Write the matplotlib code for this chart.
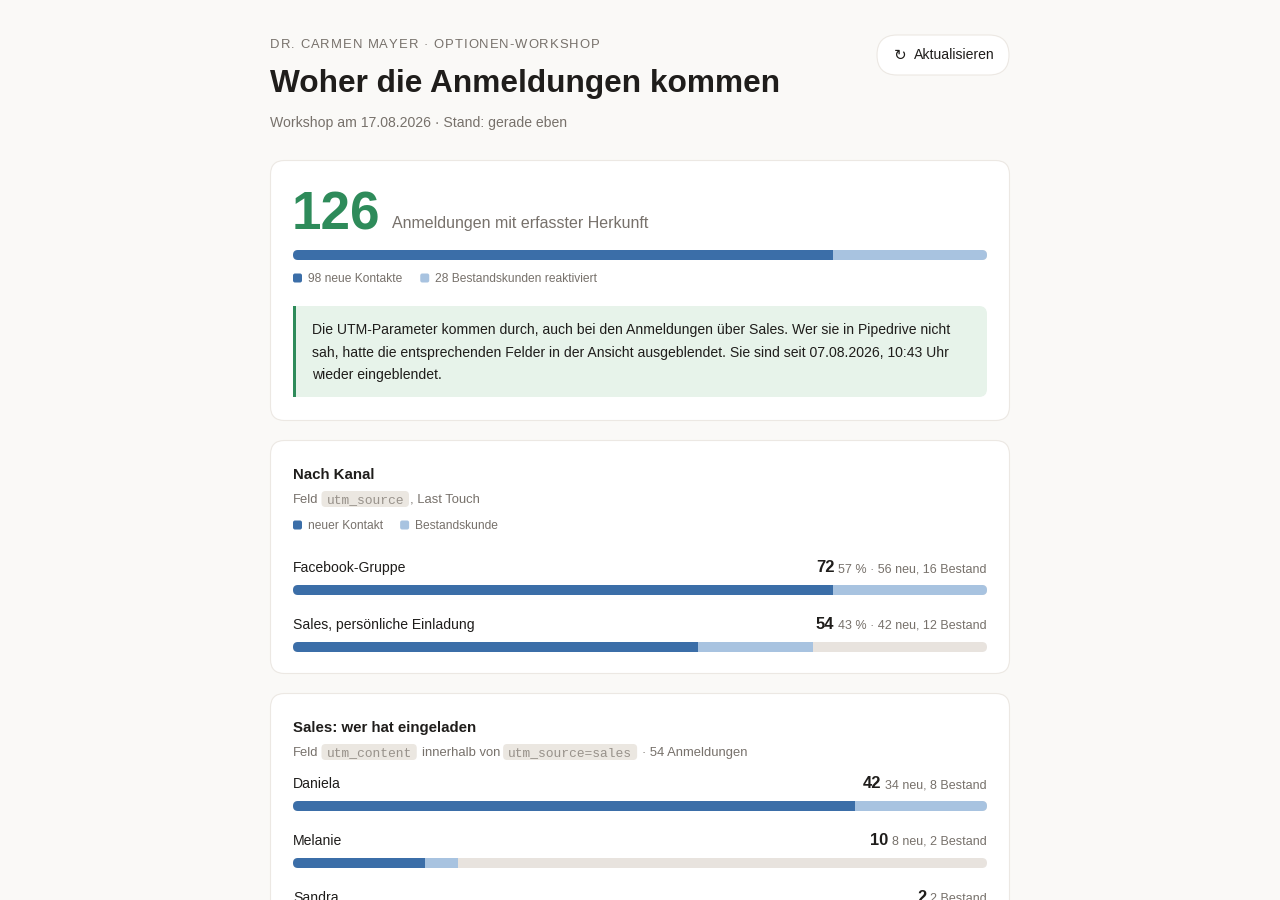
import matplotlib
matplotlib.use("Agg")
import matplotlib.pyplot as plt
from matplotlib.patches import FancyBboxPatch, Rectangle

W, H = 1280, 900
PT = 0.72  # css px -> pt at dpi 100

# --- data ---
kicker = "DR. CARMEN MAYER · OPTIONEN-WORKSHOP"
title = "Woher die Anmeldungen kommen"
subtitle = "Workshop am 17.08.2026 · Stand: gerade eben"
button_label = "Aktualisieren"

total_new = 98
total_existing = 28
total_caption = "Anmeldungen mit erfasster Herkunft"
total_legend = ["neue Kontakte", "Bestandskunden reaktiviert"]

note_lines = [
    "Die UTM-Parameter kommen durch, auch bei den Anmeldungen über Sales. Wer sie in Pipedrive nicht",
    "sah, hatte die entsprechenden Felder in der Ansicht ausgeblendet. Sie sind seit 07.08.2026, 10:43 Uhr",
    "wieder eingeblendet.",
]

channel_names = ["Facebook-Gruppe", "Sales, persönliche Einladung"]
channel_new = [56, 42]
channel_existing = [16, 12]
channel_legend = ["neuer Kontakt", "Bestandskunde"]

seller_names = ["Daniela", "Melanie", "Sandra"]
seller_new = [34, 8, 0]
seller_existing = [8, 2, 2]

# --- colours ---
BG = "#faf9f7"
CARD = "#ffffff"
BORDER = "#ece8e3"
INK = "#1f1d1b"
MUTED = "#77716b"
BLUE = "#3b6ea8"
LIGHT = "#a8c3e0"
TRACK = "#e8e3de"
GREEN = "#2e8b5a"
NOTE_BG = "#e7f3ea"
CODE_BG = "#ebe7e1"
CODE_INK = "#98928b"

plt.rcParams['font.family'] = ['Liberation Sans', 'DejaVu Sans']

fig = plt.figure(figsize=(W / 100, H / 100), dpi=100, facecolor=BG)
ax = fig.add_axes([0, 0, 1, 1])
ax.set_xlim(0, W)
ax.set_ylim(H, 0)
ax.axis('off')
renderer = fig.canvas.get_renderer()

BAR_X0, BAR_X1 = 293, 987


def width_of(t):
    return t.get_window_extent(renderer).width


def txt(x, y, s, px, color=INK, weight='normal', ha='left', family=None, z=3):
    kw = {}
    if family:
        kw['family'] = family
    return ax.text(x, y, s, fontsize=px * PT, color=color, fontweight=weight,
                   ha=ha, va='baseline', zorder=z, **kw)


def spaced(x, y, s, px, color, spacing):
    for ch in s:
        if ch == " ":
            x += 0.28 * px + spacing
            continue
        t = txt(x, y, ch, px, color)
        x += width_of(t) + spacing


def card(y, h):
    ax.add_patch(FancyBboxPatch((270.5, y + 0.5), 739, h, boxstyle="round,pad=0,rounding_size=14",
                                fc=CARD, ec=BORDER, lw=0.8, zorder=1))


def swatch(x, yc, color):
    ax.add_patch(FancyBboxPatch((x, yc - 4.5), 9, 9, boxstyle="round,pad=0,rounding_size=2",
                                fc=color, ec='none', zorder=3))


def legend(x, y, labels, gap):
    for lab, col in zip(labels, [BLUE, LIGHT]):
        swatch(x, y - 4, col)
        t = txt(x + 15, y, lab, 12, MUTED)
        x += 15 + width_of(t) + gap


def stacked_bar(y, new, existing, scale_max):
    bax = fig.add_axes([BAR_X0 / W, 1 - (y + 10) / H, (BAR_X1 - BAR_X0) / W, 10 / H])
    bars = bax.barh([0.5, 0.5, 0.5], [scale_max, new, existing], left=[0, 0, new],
                    height=1, color=[TRACK, BLUE, LIGHT], linewidth=0)
    bax.set_xlim(0, scale_max)
    bax.set_ylim(0, 1)
    bax.axis('off')
    clip = FancyBboxPatch((BAR_X0, y), BAR_X1 - BAR_X0, 10,
                          boxstyle="round,pad=0,rounding_size=5", transform=ax.transData)
    for b in bars:
        b.set_clip_path(clip)


def runs(x, y, parts):
    for s, kind in parts:
        if kind == 'code':
            t = txt(x + 8, y, s, 13, CODE_INK, family='Liberation Mono')
            w = width_of(t)
            ax.add_patch(FancyBboxPatch((x + 3, y - 12), w + 10, 16,
                                        boxstyle="round,pad=0,rounding_size=4",
                                        fc=CODE_BG, ec='none', zorder=2))
            x += w + 14
        else:
            if s.startswith(" "):
                x += 4
                s = s.lstrip()
            t = txt(x, y, s, 13, MUTED)
            x += width_of(t)


def row(y, name, value, detail, new, existing, scale_max):
    txt(BAR_X0, y, name, 14, INK)
    d = txt(BAR_X1, y, detail, 12.5, MUTED, ha='right')
    txt(BAR_X1 - width_of(d) - 4, y, str(value), 16.5, INK, weight='bold', ha='right')
    stacked_bar(y + 13, new, existing, scale_max)


# --- header ---
spaced(270, 48, kicker, 13, MUTED, 1.0)
txt(270, 92, title, 31.6, INK, weight='bold')
txt(270, 127, subtitle, 14, MUTED)

ax.add_patch(FancyBboxPatch((877, 35), 132, 40, boxstyle="round,pad=0,rounding_size=20",
                            fc=CARD, ec=BORDER, lw=0.8, zorder=1))
ax.text(900, 55, "↻", fontsize=15 * PT, color=INK, family='DejaVu Sans',
        ha='center', va='center', zorder=3)
txt(914, 59, button_label, 14, INK)

# --- card 1: total ---
total = total_new + total_existing
card(160, 260)
txt(292, 229, str(total), 53, GREEN, weight='bold')
txt(392, 228, total_caption, 16, MUTED)
stacked_bar(250, total_new, total_existing, total)
legend(293, 282, [f"{total_new} {total_legend[0]}", f"{total_existing} {total_legend[1]}"], 18)

ax.add_patch(FancyBboxPatch((293, 306), 694, 91, boxstyle="round,pad=0,rounding_size=8",
                            fc=NOTE_BG, ec='none', zorder=2))
ax.add_patch(Rectangle((293, 306), 12, 91, fc=NOTE_BG, ec='none', zorder=2))
ax.add_patch(Rectangle((293, 306), 3, 91, fc=GREEN, ec='none', zorder=2))
for i, line in enumerate(note_lines):
    txt(312, 334 + i * 22.5, line, 14, INK)

# --- card 2: channels ---
card(440, 233)
txt(293, 479, "Nach Kanal", 15, INK, weight='bold')
runs(293, 503, [("Feld", 'text'), ("utm_source", 'code'), (", Last Touch", 'text')])
legend(293, 529, channel_legend, 17)
ch_max = max(n + e for n, e in zip(channel_new, channel_existing))
for i, name in enumerate(channel_names):
    n, e = channel_new[i], channel_existing[i]
    pct = round((n + e) / total * 100)
    row(572 + i * 57, name, n + e, f"{pct} % · {n} neu, {e} Bestand", n, e, ch_max)

# --- card 3: sellers ---
sales_total = sum(seller_new) + sum(seller_existing)
card(693, 260)
txt(293, 732, "Sales: wer hat eingeladen", 15, INK, weight='bold')
runs(293, 756, [("Feld", 'text'), ("utm_content", 'code'), (" innerhalb von", 'text'),
                ("utm_source=sales", 'code'), (f" · {sales_total} Anmeldungen", 'text')])
s_max = max(n + e for n, e in zip(seller_new, seller_existing))
for i, name in enumerate(seller_names):
    n, e = seller_new[i], seller_existing[i]
    parts = []
    if n:
        parts.append(f"{n} neu")
    if e:
        parts.append(f"{e} Bestand")
    row(788 + i * 57, name, n + e, ", ".join(parts), n, e, s_max)

fig.savefig("out.png", dpi=100, facecolor=BG)
